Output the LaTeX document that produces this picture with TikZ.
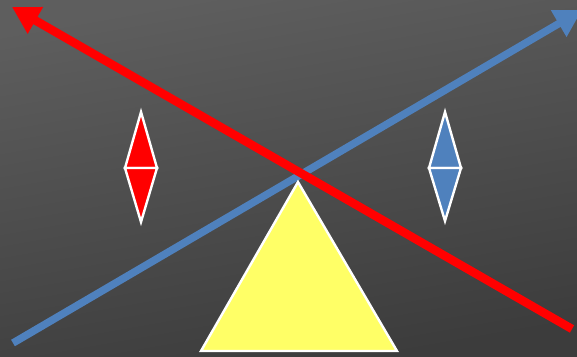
\documentclass[tikz,border=0pt]{standalone}
\usetikzlibrary{arrows.meta}
\definecolor{bgtop}{RGB}{94,94,94}
\definecolor{bgbot}{RGB}{60,60,60}
\definecolor{ored}{RGB}{255,0,0}
\definecolor{oblue}{RGB}{79,129,189}
\definecolor{oyellow}{RGB}{255,255,102}
\tikzset{
  ray/.style={-{Triangle[length=27pt,width=29pt]}},
  outl/.style={draw=white, line width=2.4pt, line join=miter},
}
\begin{document}
\begin{tikzpicture}[x=1pt,y=-1pt]
\shade[top color=bgtop, bottom color=bgbot, shading angle=10] (0,0) rectangle (577,356);
\useasboundingbox (0,0) rectangle (577,356);
% coordinates
\coordinate (bt) at (13,343);
\coordinate (bh) at (582,10);
\coordinate (rt) at (572,329);
\coordinate (rh) at (12,7);
% blue arrow
\draw[ray, line width=7.5pt, draw=oblue, fill=oblue] (bt) -- (bh);
% red arrow
\draw[ray, line width=8.5pt, draw=ored, fill=ored] (rt) -- (rh);
% triangle
\coordinate (ta) at (298,182);
\coordinate (tl) at (201,351);
\coordinate (tr) at (397,351);
\filldraw[outl, fill=oyellow] (ta) -- (tl) -- (tr) -- cycle;
% red diamond
\coordinate (r1) at (141,112);
\coordinate (r2) at (157,168);
\coordinate (r3) at (141,222);
\coordinate (r4) at (125,168);
\filldraw[outl, fill=ored] (r1) -- (r2) -- (r4) -- cycle;
\filldraw[outl, fill=ored] (r4) -- (r2) -- (r3) -- cycle;
% blue diamond
\coordinate (b1) at (445,112);
\coordinate (b2) at (461,168);
\coordinate (b3) at (445,221);
\coordinate (b4) at (429,168);
\filldraw[outl, fill=oblue] (b1) -- (b2) -- (b4) -- cycle;
\filldraw[outl, fill=oblue] (b4) -- (b2) -- (b3) -- cycle;
\end{tikzpicture}
\end{document}
